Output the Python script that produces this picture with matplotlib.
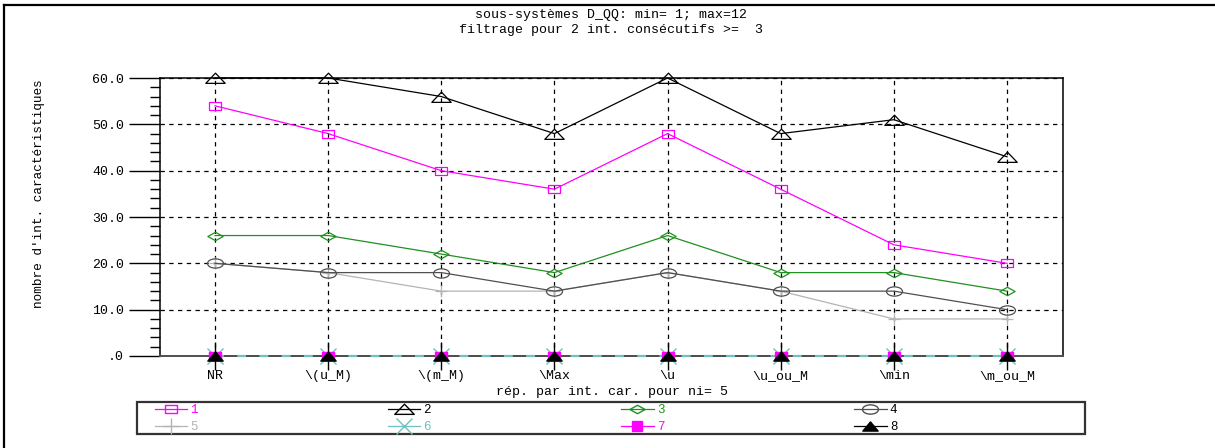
import numpy as np
import matplotlib
matplotlib.use("Agg")
import matplotlib.pyplot as plt
from matplotlib.path import Path
from matplotlib.lines import Line2D
from matplotlib.patches import Rectangle
from matplotlib.ticker import FixedLocator, MultipleLocator

# ---------------- data ----------------
categories = ["NR", "\\(u_M)", "\\(m_M)", "\\Max", "\\u", "\\u_ou_M", "\\min", "\\m_ou_M"]
s1 = [54, 48, 40, 36, 48, 36, 24, 20]
s2 = [60, 60, 56, 48, 60, 48, 51, 43]
s3 = [26, 26, 22, 18, 26, 18, 18, 14]
s4 = [20, 18, 18, 14, 18, 14, 14, 10]
s5 = [20, 18, 14, 14, 18, 14, 8, 8]
s6 = [0, 0, 0, 0, 0, 0, 0, 0]
s7 = [0, 0, 0, 0, 0, 0, 0, 0]
s8 = [0, 0, 0, 0, 0, 0, 0, 0]
series_labels = ["1", "2", "3", "4", "5", "6", "7", "8"]
ytick_values = [0, 10, 20, 30, 40, 50, 60]
ytick_labels = [".0", "10.0", "20.0", "30.0", "40.0", "50.0", "60.0"]
title1 = "sous-systèmes D_QQ: min= 1; max=12"
title2 = "filtrage pour 2 int. consécutifs >=  3"
xlabel = "rép. par int. car. pour ni= 5"
ylabel = "nombre d'int. caractéristiques"

# ---------------- markers (flattened shapes) ----------------
def flat(verts):
    return Path(verts + [verts[0]], closed=True)

m_rect = flat([(-1.5, -1.0), (1.5, -1.0), (1.5, 1.0), (-1.5, 1.0)])
m_tri = flat([(-1.0, -0.5), (1.0, -0.5), (0.0, 0.55)])
m_dia = flat([(-1.0, 0.0), (0.0, 0.55), (1.0, 0.0), (0.0, -0.55)])
uc = Path.unit_circle()
m_ell = Path(uc.vertices * np.array([1.0, 0.58]), uc.codes)
m_ftri = flat([(-1.0, -0.6), (1.0, -0.6), (0.0, 0.6)])

MAG = "#ff00ff"
GRN = "#209020"
DGR = "#505050"
LGR = "#b4b4b4"
TEAL = "#70c0c0"

font = ["Liberation Mono", "DejaVu Sans Mono"]
plt.rcParams["font.family"] = font

fig = plt.figure(figsize=(12.15, 4.48), dpi=100)
fig.patch.set_facecolor("white")

W, H = 1215.0, 448.0
ax = fig.add_axes([160 / W, 1 - 356 / H, (1063 - 160) / W, (356 - 78) / H])

x = np.arange(len(categories))
lw = 0.9
kw = dict(clip_on=False)
ax.plot(x, s1, color=MAG, lw=lw, marker=m_rect, ms=9, mfc="none", mec=MAG, mew=0.9, zorder=5, **kw)
ax.plot(x, s2, color="black", lw=lw, marker=m_tri, ms=14, mfc="none", mec="black", mew=0.9, zorder=5, **kw)
ax.plot(x, s3, color=GRN, lw=lw, marker=m_dia, ms=11, mfc="none", mec=GRN, mew=0.9, zorder=5, **kw)
ax.plot(x, s4, color=DGR, lw=lw, marker=m_ell, ms=11.5, mfc="none", mec=DGR, mew=0.9, zorder=4, **kw)
ax.plot(x, s5, color=LGR, lw=lw, marker="+", ms=9, mec=LGR, mew=0.9, zorder=3, **kw)
ax.plot(x, s8, color=DGR, lw=1.4, zorder=6, **kw)
ax.plot(x, s6, color=TEAL, lw=1.6, ls=(0, (4, 6)), marker="x", ms=11, mec=TEAL, mew=1.0, zorder=6.5, **kw)
ax.plot(x, s7, lw=0, marker=m_rect, ms=8.5, mfc=MAG, mec=MAG, zorder=6.6, **kw)
ax.plot(x, s8, lw=0, marker=m_ftri, ms=11, mfc="black", mec="black", zorder=7, **kw)

ax.set_xlim(-0.486, 7.495)
ax.set_ylim(0, 60)

ax.xaxis.set_major_locator(FixedLocator(x))
ax.set_xticklabels(categories)
ax.yaxis.set_major_locator(FixedLocator(ytick_values))
ax.set_yticklabels(ytick_labels)
ax.yaxis.set_minor_locator(MultipleLocator(2))

ax.tick_params(axis="y", which="major", direction="out", length=22, width=1.0, pad=4,
               labelsize=9.5, colors="black")
ax.tick_params(axis="y", which="minor", direction="out", length=7.5, width=1.0)
ax.tick_params(axis="x", which="major", direction="inout", length=20, width=1.0, pad=0,
               labelsize=9.5)

ax.grid(True, which="major", color="black", ls=(0, (3.5, 3.5)), lw=0.9)
ax.set_axisbelow(True)

for side in ["left", "top", "right"]:
    ax.spines[side].set_color("black")
    ax.spines[side].set_linewidth(1.1)
ax.spines["bottom"].set_color(DGR)
ax.spines["bottom"].set_linewidth(1.4)

ax.set_xlabel(xlabel, fontsize=9.5, labelpad=3)
fig.text(39 / W, 1 - 194 / H, ylabel, rotation=90, ha="center", va="center", fontsize=9.2)

tx = 611 / W
fig.text(tx, 1 - 15 / H, title1, ha="center", va="center", fontsize=9.5)
fig.text(tx, 1 - 30.5 / H, title2, ha="center", va="center", fontsize=9.5)

# figure frame (left + top)
fig.add_artist(Line2D([4 / W, 4 / W], [0, 1 - 5 / H], color="black", lw=1.6, transform=fig.transFigure))
fig.add_artist(Line2D([4 / W, 1], [1 - 5 / H, 1 - 5 / H], color="black", lw=1.6, transform=fig.transFigure))

# legend box
fig.add_artist(Rectangle((137 / W, 1 - 434 / H), (1085 - 137) / W, 32 / H, transform=fig.transFigure,
                         facecolor="white", edgecolor="#333333", lw=1.6, zorder=1))

# legend: row 1 -> 1..4, row 2 -> 5..8
lh = [
    Line2D([], [], color=MAG, lw=lw, marker=m_rect, ms=9, mfc="none", mec=MAG),
    Line2D([], [], color=LGR, lw=lw, marker="+", ms=11, mec=LGR),
    Line2D([], [], color="black", lw=lw, marker=m_tri, ms=14, mfc="none", mec="black"),
    Line2D([], [], color=TEAL, lw=lw, marker="x", ms=11, mec=TEAL, mew=1.0),
    Line2D([], [], color=GRN, lw=lw, marker=m_dia, ms=11, mfc="none", mec=GRN),
    Line2D([], [], color=MAG, lw=lw, marker="s", ms=7, mfc=MAG, mec=MAG),
    Line2D([], [], color=DGR, lw=lw, marker=m_ell, ms=11.5, mfc="none", mec=DGR),
    Line2D([], [], color="black", lw=lw, marker=m_ftri, ms=11, mfc="black", mec="black"),
]
ll = [series_labels[i] for i in [0, 4, 1, 5, 2, 6, 3, 7]]
lc = [MAG, LGR, "black", TEAL, GRN, MAG, "black", "black"]
fs = 9
leg = fig.legend(lh, ll, ncol=4, loc="upper left",
                 bbox_to_anchor=(153 / W, 1 - 402 / H),
                 fontsize=fs, handlelength=2.6, handletextpad=0.25, borderpad=0.15,
                 labelspacing=0.4, borderaxespad=0, frameon=False,
                 columnspacing=15.2)
leg.set_zorder(2)
for t, c in zip(leg.get_texts(), lc):
    t.set_color(c)

fig.savefig("out.png", dpi=100, facecolor="white")
